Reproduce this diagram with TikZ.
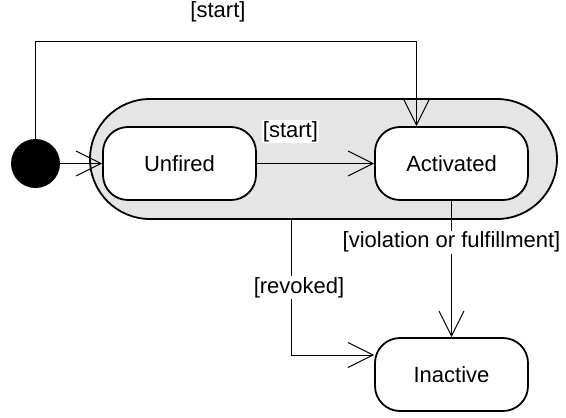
\documentclass[tikz,border=0pt]{standalone}
\usepackage{fontspec}
\setmainfont{Liberation Sans}
\usetikzlibrary{arrows.meta}

\begin{document}
\begin{tikzpicture}[x=1pt, y=-1pt,
  state/.style = {draw, line width=1.8pt, rounded corners=25pt, fill=white, minimum width=153pt, minimum height=73pt, inner sep=0pt, font=\fontsize{22}{26}\selectfont},
  guard/.style = {fill=white, inner sep=1pt, font=\fontsize{22}{26}\selectfont},
  tr/.style = {line width=1pt, -{Straight Barb[length=25pt, width=25pt]}}]
\useasboundingbox (0,0) rectangle (566,418);
\node[draw, line width=1.8pt, fill=gray!20, rounded corners=60pt, minimum width=467pt, minimum height=120pt, inner sep=0pt](grp) at (323.5,159){};
\node[circle, fill=black, minimum size=49pt, inner sep=0pt](init) at (35.5,163.5){};
\node[state](unf) at (179.5,163.5){Unfired};
\node[state](act) at (451.5,163.5){Activated};
\node[state](inact) at (451.5,374.5){Inactive};
\coordinate (c1) at (35.5,41);
\coordinate (c2) at (416.5,41);
\draw [tr] (init) -- (unf);
\draw [tr] (init) -- (c1) -- node[guard, fill=none, pos=.479, yshift=29pt]{[start]} (c2) -- (act.north -| c2);
\draw [tr] (unf) -- node[guard, pos=.286, yshift=32pt]{[start]} (act);
\draw [tr] (act) -- node[guard, pos=.304]{[violation or fulfillment]} (inact);
\draw [tr] ([xshift=-32.5pt]grp.south) |- node[guard, pos=.25, xshift=8pt]{[revoked]} ([yshift=19.5pt]inact.west);
\end{tikzpicture}
\end{document}
